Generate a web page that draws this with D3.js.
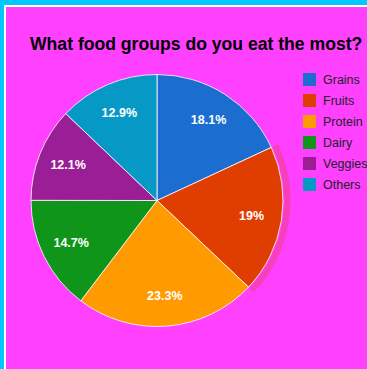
<!DOCTYPE html>
<html>
<head>
<meta charset="utf-8">
<script src="https://cdn.jsdelivr.net/npm/d3@7"></script>
<style>
  html, body { margin: 0; padding: 0; background: #00c8ff; }
  svg { display: block; }
</style>
</head>
<body>
<svg id="chart" width="367" height="369"></svg>
<script>
// Survey results: share of people naming each food group
const categories = ["Grains", "Fruits", "Protein", "Dairy", "Veggies", "Others"];
const values = [18.1, 19, 23.3, 14.7, 12.1, 12.9];
const colors = ["#1c6dd0", "#e03d00", "#ff9a00", "#0f961a", "#9a1e96", "#0799c6"];
const title = "What food groups do you eat the most?";
const highlighted = "Fruits";

const svg = d3.select("#chart");
const W = 367, H = 369;

// Frame: cyan page, thin white edge, magenta panel
svg.append("rect").attr("width", W).attr("height", H).attr("fill", "#00c8ff");
svg.append("rect").attr("x", 4).attr("y", 5).attr("width", W - 4).attr("height", H - 5).attr("fill", "#ffffff");
svg.append("rect").attr("x", 6).attr("y", 7).attr("width", W - 6).attr("height", H - 7).attr("fill", "#ff40ff");

// Title
svg.append("text")
  .attr("x", 30).attr("y", 50)
  .attr("font-family", "Arial, 'Liberation Sans', sans-serif")
  .attr("font-weight", "bold")
  .attr("font-size", 17.6)
  .attr("fill", "#000")
  .text(title);

const cx = 157, cy = 200.5, r = 126;
const color = d3.scaleOrdinal().domain(categories).range(colors);
const data = categories.map((c, i) => ({ name: c, value: values[i] }));

const pie = d3.pie().value(d => d.value).sort(null);
const arcs = pie(data);
const arc = d3.arc().innerRadius(0).outerRadius(r);
const ring = d3.arc().innerRadius(r + 1.5).outerRadius(r + 7.5);
const labelArc = d3.arc().innerRadius(r * 0.76).outerRadius(r * 0.76);

const g = svg.append("g").attr("transform", `translate(${cx},${cy})`);

// Hover ring around the highlighted slice
g.selectAll("path.ring")
  .data(arcs.filter(a => a.data.name === highlighted))
  .join("path")
  .attr("class", "ring")
  .attr("d", ring)
  .attr("fill", d => color(d.data.name))
  .attr("fill-opacity", 0.28);

g.selectAll("path.slice")
  .data(arcs)
  .join("path")
  .attr("class", "slice")
  .attr("d", arc)
  .attr("fill", d => color(d.data.name))
  .attr("stroke", "#ffffff")
  .attr("stroke-opacity", 0.8)
  .attr("stroke-width", 1);

g.selectAll("text.pct")
  .data(arcs)
  .join("text")
  .attr("class", "pct")
  .attr("transform", d => `translate(${labelArc.centroid(d)})`)
  .attr("text-anchor", "middle")
  .attr("dy", "0.35em")
  .attr("font-family", "Arial, 'Liberation Sans', sans-serif")
  .attr("font-weight", "bold")
  .attr("font-size", 12.5)
  .attr("fill", "#ffffff")
  .text(d => d.data.value + "%");

// Legend
const legend = svg.append("g").attr("transform", "translate(303,73)");
const row = legend.selectAll("g")
  .data(categories)
  .join("g")
  .attr("transform", (d, i) => `translate(0,${i * 21})`);
row.append("rect")
  .attr("width", 13).attr("height", 13)
  .attr("fill", d => color(d));
row.append("text")
  .attr("x", 20).attr("y", 11)
  .attr("font-family", "Arial, 'Liberation Sans', sans-serif")
  .attr("font-size", 12.5)
  .attr("fill", "#222222")
  .text(d => d);
</script>
</body>
</html>
